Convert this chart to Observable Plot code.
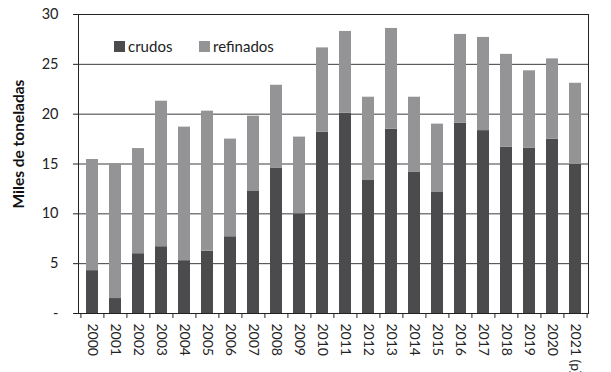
<!DOCTYPE html>
<html><head><meta charset="utf-8">
<script src="https://cdn.jsdelivr.net/npm/d3@7"></script>
<script src="https://cdn.jsdelivr.net/npm/@observablehq/plot@0.6"></script>
<style>
body{margin:0;background:#fff;}
#wrap{position:relative;width:611px;height:372px;overflow:hidden;font-family:Lato,sans-serif;}
.leg{position:absolute;top:37px;font-size:15px;color:#222;display:flex;align-items:center;line-height:18px;}
.sw{width:11px;height:11px;display:inline-block;margin-right:3px;}
#ytitle{position:absolute;left:18px;top:144px;transform:translate(-50%,-50%) rotate(-90deg);font-weight:bold;font-size:15.5px;white-space:nowrap;color:#111;}
</style></head><body><div id="wrap"></div>
<script>
const years = ["2000","2001","2002","2003","2004","2005","2006","2007","2008","2009","2010","2011","2012","2013","2014","2015","2016","2017","2018","2019","2020","2021 (p)"];
const crudos = [4.3,1.5,6.0,6.7,5.3,6.25,7.7,12.3,14.6,10.0,18.2,20.1,13.4,18.5,14.2,12.2,19.1,18.35,16.7,16.6,17.5,14.95];
const refinados = [11.15,13.55,10.55,14.6,13.4,14.05,9.8,7.5,8.3,7.7,8.45,8.2,8.3,10.1,7.5,6.8,8.9,9.35,9.3,7.75,8.05,8.15];
const series = ["crudos","refinados"];
const colors = ["#4b4b4d","#949497"];
const yTicks = [0,5,10,15,20,25,30];
const yTitle = "Miles de toneladas";

const data = years.flatMap((y,i)=>[
  {year:y, serie:series[0], value:crudos[i]},
  {year:y, serie:series[1], value:refinados[i]}
]);

const W = 611, H = 372, mL = 78, mR = 23, mT = 14, mB = 59;
const step = (W - mL - mR) / (years.length - 0.5 + 0.5);

const chart = Plot.plot({
  width: W, height: H, marginLeft: mL, marginRight: mR, marginTop: mT, marginBottom: mB,
  style: {fontFamily: "Lato, sans-serif", background: "#fff", color: "#222"},
  x: {domain: years, paddingInner: 0.5, paddingOuter: 0.25, label: null},
  y: {domain: [0, 30], label: null},
  color: {domain: series, range: colors},
  marks: [
    Plot.ruleY(yTicks, {stroke: "#3c3c3c", strokeWidth: 1}),
    Plot.barY(data, {x: "year", y: "value", fill: "serie"}),
    Plot.frame({stroke: "#222"}),
    Plot.axisY(yTicks, {tickSize: 5, tickPadding: 15, fontSize: 14.5, label: null,
      tickFormat: d => d === 0 ? "-" : String(d)}),
    Plot.axisX({tickSize: 0, tickRotate: 90, tickPadding: 10, fontSize: 14, label: null}),
    Plot.ruleX(years, {x: d => d, y1: 0, y2: -0.5, dx: -step/2, stroke: "#222"}),
    Plot.ruleX(years.slice(-1), {x: d => d, y1: 0, y2: -0.5, dx: step/2, stroke: "#222"})
  ]
});
const wrap = document.getElementById("wrap");
wrap.appendChild(chart);
const t = document.createElement("div"); t.id = "ytitle"; t.textContent = yTitle; wrap.appendChild(t);
const legPos = [114, 199];
series.forEach((s,i)=>{
  const d = document.createElement("div"); d.className = "leg"; d.style.left = legPos[i] + "px";
  const sw = document.createElement("span"); sw.className = "sw"; sw.style.background = colors[i];
  d.appendChild(sw); d.appendChild(document.createTextNode(s)); wrap.appendChild(d);
});
</script></body></html>
